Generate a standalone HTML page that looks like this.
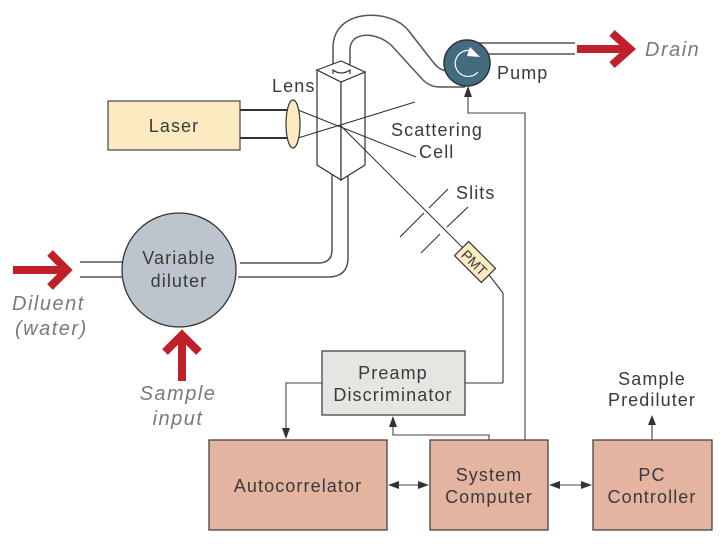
<!DOCTYPE html>
<html><head><meta charset="utf-8"><style>
html,body{margin:0;padding:0;background:#fff}
svg{display:block}
text{font-family:"Liberation Sans",sans-serif;fill:#3a3a3a;font-size:18px;letter-spacing:1.1px}
.it{font-style:italic;fill:#7a7a7a;font-size:20px;letter-spacing:1.5px}
</style></head><body>
<svg width="725" height="546" viewBox="0 0 725 546" xmlns="http://www.w3.org/2000/svg">
<g stroke="#555" stroke-width="1.5" fill="none">
<path d="M333,72 V48 C333,8 390,8 408,30 L433,62 Q440,71 448,71"/>
<path d="M350,70 V50 C350,30 378,32 392,46 L423,80 Q430,87 440,87 L465,87"/>
<line x1="470" y1="43" x2="575" y2="43"/>
<line x1="482" y1="54" x2="575" y2="54"/>
<path d="M332,172 V250 Q332,263 318,263 H240"/>
<path d="M348,172 V258 Q348,277 328,277 H238"/>
<line x1="80" y1="262" x2="123" y2="262"/>
<line x1="80" y1="277" x2="123" y2="277"/>
</g>
<rect x="108" y="101" width="132" height="49" fill="#fcebc0" stroke="#444" stroke-width="1.2"/>
<text x="174" y="132" text-anchor="middle">Laser</text>
<line x1="240" y1="110" x2="290" y2="110" stroke="#333" stroke-width="2"/>
<line x1="240" y1="138" x2="290" y2="138" stroke="#333" stroke-width="2"/>
<polygon points="317,70 341,82 341,180 317,165" fill="#fff" stroke="#333" stroke-width="1.2"/>
<polygon points="341,82 365,72 365,165 341,180" fill="#fff" stroke="#333" stroke-width="1.2"/>
<polygon points="317,70 341,61 365,72 341,82" fill="#fff" stroke="#333" stroke-width="1.2"/>
<path d="M333,74 V70 Q341,76 350,70 V74" fill="#fff" stroke="#333" stroke-width="1.2"/>
<g stroke="#333" stroke-width="1.1">
<line x1="298" y1="110" x2="416" y2="157"/>
<line x1="298" y1="138" x2="415" y2="102"/>
<line x1="340" y1="125" x2="468" y2="253"/>
<line x1="486" y1="271" x2="503" y2="293"/>
<line x1="503" y1="293" x2="503" y2="383"/>
<line x1="503" y1="383" x2="465" y2="383"/>
<line x1="400" y1="237" x2="424" y2="213"/>
<line x1="429" y1="208" x2="448" y2="189"/>
<line x1="421" y1="253" x2="440" y2="234"/>
<line x1="447" y1="227" x2="468" y2="207"/>
</g>
<ellipse cx="293" cy="124" rx="7" ry="24" fill="#fcebc0" stroke="#333" stroke-width="1.2"/>
<text x="272" y="92">Lens</text>
<text x="391" y="136">Scattering</text>
<text x="419" y="158">Cell</text>
<text x="456" y="199">Slits</text>
<g transform="translate(475,262) rotate(45)">
<rect x="-19" y="-10" width="38" height="20" fill="#fcebc0" stroke="#333" stroke-width="1.2"/>
<text x="0" y="6" style="font-size:14px;letter-spacing:0" text-anchor="middle">PMT</text>
</g>
<circle cx="467" cy="63" r="23" fill="#436c80" stroke="#333" stroke-width="1.5"/>
<path d="M472,51 A13,13 0 1 0 478,72" stroke="#fff" stroke-width="1.2" fill="none"/>
<polygon points="470,47 480,57 467,56" fill="#fff"/>
<text x="497" y="79">Pump</text>
<line x1="577" y1="49" x2="628" y2="49" stroke="#c0202a" stroke-width="8"/>
<polyline points="612,33 630,49 612,65" stroke="#c0202a" stroke-width="8" fill="none"/>
<text x="645" y="56" class="it">Drain</text>
<circle cx="179" cy="270" r="57" fill="#bcc5ce" stroke="#333" stroke-width="1.3"/>
<text x="179" y="264" text-anchor="middle">Variable</text>
<text x="179" y="287" text-anchor="middle">diluter</text>
<line x1="13" y1="270" x2="64" y2="270" stroke="#c0202a" stroke-width="8"/>
<polyline points="50,253 67,270 50,287" stroke="#c0202a" stroke-width="8" fill="none"/>
<text x="12" y="310" class="it">Diluent</text>
<text x="15" y="335" class="it">(water)</text>
<line x1="182" y1="381" x2="182" y2="338" stroke="#c0202a" stroke-width="8"/>
<polyline points="165,352 182,335 199,352" stroke="#c0202a" stroke-width="8" fill="none"/>
<text x="178" y="400" class="it" text-anchor="middle">Sample</text>
<text x="178" y="425" class="it" text-anchor="middle">input</text>
<rect x="322" y="351" width="143" height="64" fill="#e6e5e2" stroke="#444" stroke-width="1.3"/>
<text x="393" y="379" text-anchor="middle">Preamp</text>
<text x="393" y="401" text-anchor="middle">Discriminator</text>
<rect x="209" y="440" width="178" height="90" fill="#e4b4a1" stroke="#444" stroke-width="1.3"/>
<text x="298" y="492" text-anchor="middle">Autocorrelator</text>
<rect x="430" y="440" width="118" height="90" fill="#e4b4a1" stroke="#444" stroke-width="1.3"/>
<text x="489" y="481" text-anchor="middle">System</text>
<text x="489" y="503" text-anchor="middle">Computer</text>
<rect x="593" y="440" width="119" height="90" fill="#e4b4a1" stroke="#444" stroke-width="1.3"/>
<text x="652" y="481" text-anchor="middle">PC</text>
<text x="652" y="503" text-anchor="middle">Controller</text>
<text x="652" y="385" text-anchor="middle">Sample</text>
<text x="652" y="406" text-anchor="middle">Prediluter</text>
<g stroke="#444" stroke-width="1.1" fill="none">
<polyline points="322,383 286,383 286,430"/>
<polyline points="489,440 489,435 393,435 393,425"/>
<polyline points="525,440 525,113 468,113 468,96"/>
<line x1="397" y1="485" x2="420" y2="485"/>
<line x1="558" y1="485" x2="583" y2="485"/>
<line x1="652" y1="440" x2="652" y2="424"/>
</g>
<g fill="#333">
<polygon points="282,428 290,428 286,439"/>
<polygon points="389,427 397,427 393,416"/>
<polygon points="464,97 472,97 468,86"/>
<polygon points="388,485 399,481 399,489"/>
<polygon points="429,485 418,481 418,489"/>
<polygon points="549,485 560,481 560,489"/>
<polygon points="592,485 581,481 581,489"/>
<polygon points="648,425 656,425 652,415"/>
</g>
</svg>
</body></html>
